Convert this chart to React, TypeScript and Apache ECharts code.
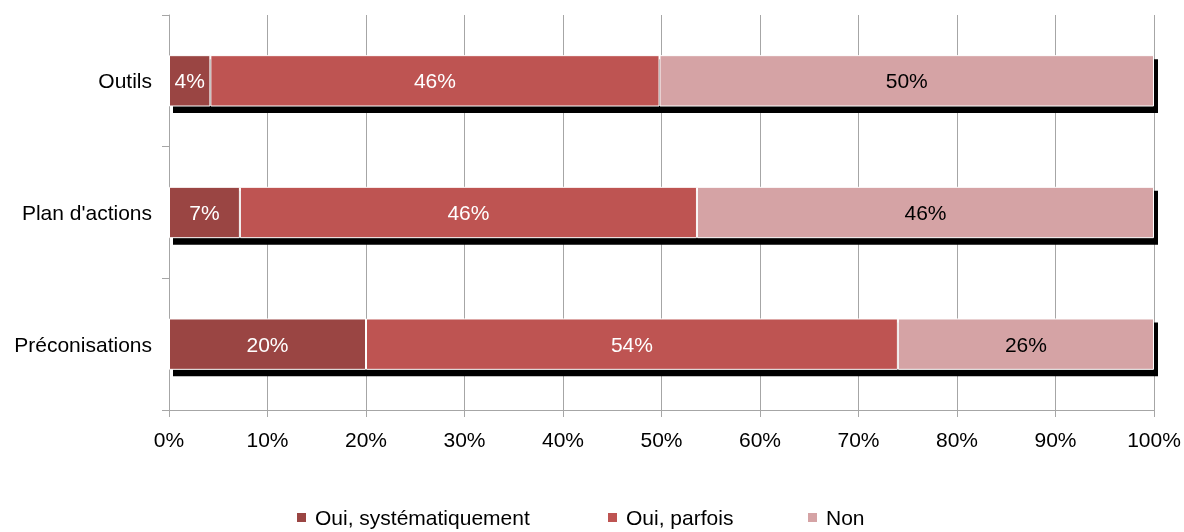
import React, { useEffect, useRef } from "react";
import * as echarts from "echarts";

const categories = ["Préconisations", "Plan d'actions", "Outils"];
const seriesNames = ["Oui, systématiquement", "Oui, parfois", "Non"];
const ouiSystematiquement = [20.0, 7.2, 4.2];
const ouiParfois = [54.0, 46.4, 45.6];
const non = [26.0, 46.4, 50.2];
const xTicks = [0, 10, 20, 30, 40, 50, 60, 70, 80, 90, 100];

const colors = ["#9A4543", "#BE5452", "#D5A3A5"];
const labelColors = ["#ffffff", "#ffffff", "#000000"];
const legendLefts = [295, 606, 806];

export default function App() {
  const ref = useRef<HTMLDivElement>(null);
  useEffect(() => {
    if (!ref.current) return;
    const chart = echarts.init(ref.current, null, { renderer: "svg" });
    const font = "'Liberation Sans', Arial, sans-serif";
    const data = [ouiSystematiquement, ouiParfois, non];
    const totals = categories.map((_, i) => data.reduce((s, arr) => s + arr[i], 0));
    const barRatio = 0.39;
    chart.setOption({
      animation: false,
      textStyle: { fontFamily: font },
      grid: { left: 169, right: 30, top: 15, bottom: 122 },
      xAxis: {
        type: "value",
        min: xTicks[0],
        max: xTicks[xTicks.length - 1],
        interval: 10,
        axisLine: { show: true, lineStyle: { color: "#a6a6a6", width: 1 } },
        axisTick: { show: true, length: 7, lineStyle: { color: "#a6a6a6" } },
        splitLine: { show: true, lineStyle: { color: "#a6a6a6", width: 1 } },
        axisLabel: {
          formatter: (v: number) => v + "%",
          color: "#000",
          fontSize: 21,
          fontFamily: font,
          margin: 19,
        },
      },
      yAxis: {
        type: "category",
        data: categories,
        axisLine: { show: true, lineStyle: { color: "#a6a6a6", width: 1 } },
        axisTick: { show: true, length: 7, lineStyle: { color: "#a6a6a6" } },
        axisLabel: { color: "#000", fontSize: 21, fontFamily: font, margin: 17 },
      },
      legend: seriesNames.map((n, i) => ({
        data: [n],
        left: legendLefts[i],
        top: 507,
        itemWidth: 11,
        itemHeight: 11,
        itemGap: 5,
        icon: "rect",
        textStyle: { color: "#000", fontSize: 21, fontFamily: font, padding: [0, 0, 0, 3] },
        padding: 0,
      })),
      series: [
        {
          type: "custom",
          name: "shadow",
          z: 1,
          silent: true,
          data: categories.map((_, i) => [totals[i], i]),
          encode: { x: 0, y: 1 },
          renderItem: (params: any, api: any) => {
            const start = api.coord([0, api.value(1)]);
            const end = api.coord([api.value(0), api.value(1)]);
            const bandH = api.size([0, 1])[1];
            const barH = bandH * barRatio;
            return {
              type: "rect",
              shape: {
                x: start[0] + 4,
                y: start[1] - barH / 2 + 4,
                width: end[0] - start[0],
                height: barH + 2.5,
              },
              style: { fill: "#000000" },
            };
          },
        },
        ...seriesNames.map((n, i) => ({
          name: n,
          type: "bar",
          stack: "total",
          z: 2,
          barWidth: barRatio * 100 + "%",
          data: data[i],
          itemStyle: {
            color: colors[i],
            borderColor: "#ffffff",
            borderWidth: 1,
          },
          label: {
            show: true,
            position: "inside",
            color: labelColors[i],
            fontSize: 21,
            fontFamily: font,
            formatter: (p: any) => Math.round(p.value) + "%",
          },
        })),
      ],
    });
    return () => chart.dispose();
  }, []);
  return (
    <div
      ref={ref}
      style={{ position: "fixed", left: 0, top: 0, width: 1184, height: 532 }}
    />
  );
}
